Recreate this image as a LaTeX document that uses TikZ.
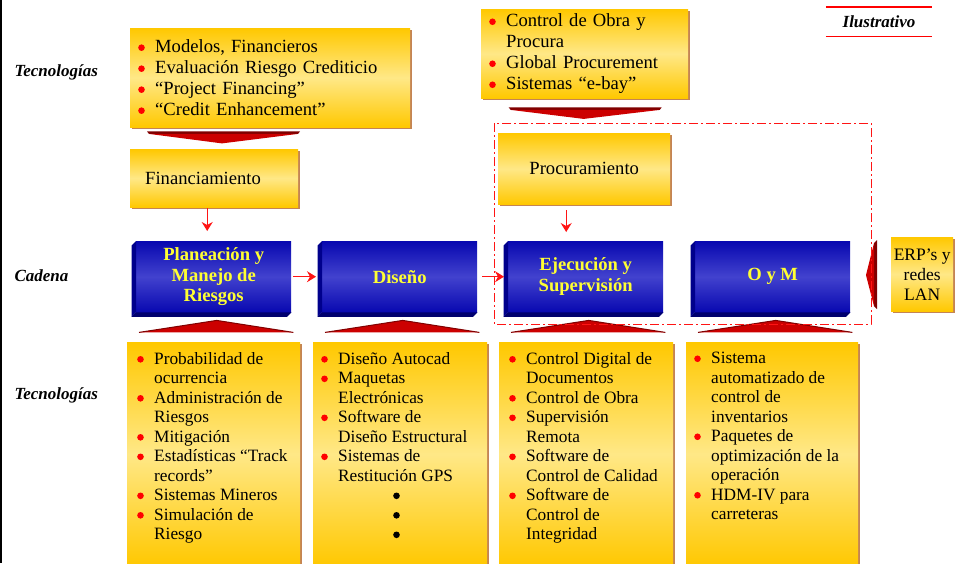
\documentclass[tikz,border=0pt]{standalone}
\usepackage{fontspec}
\setmainfont{Liberation Serif}
\usetikzlibrary{calc,positioning,shadows,arrows.meta}

\definecolor{gold}{RGB}{255,200,0}
\definecolor{paleyellow}{RGB}{255,232,135}
\definecolor{boxshadow}{RGB}{196,132,84}
\definecolor{chainblue}{RGB}{8,8,176}
\definecolor{chainmid}{RGB}{66,66,206}
\definecolor{chainside}{RGB}{0,0,140}
\definecolor{chainbase}{RGB}{0,0,110}
\definecolor{chaintext}{RGB}{255,255,51}
\definecolor{chevred}{RGB}{204,0,0}
\definecolor{chevdark}{RGB}{128,0,0}
\definecolor{flowred}{RGB}{255,20,20}

% round dot used as list bullet, and the matching hanging indent
\newcommand{\dotmark}[1]{\raisebox{1.6pt}{\tikz\fill[#1] (0,0) circle (3.3pt);}}
\newcommand{\bitem}{\makebox[17pt][l]{\dotmark{red}}}
\newcommand{\bcont}{\hspace*{17pt}}

\tikzset{
  techbox/.style={anchor=north west,inner sep=0pt,top color=gold,bottom color=gold,middle color=paleyellow,
    drop shadow={shadow xshift=2pt,shadow yshift=-2pt,fill=boxshadow,opacity=1}},
  toplist/.style={techbox,align=left,inner xsep=8pt,font=\fontsize{18.6}{21}\selectfont},
  botlist/.style={anchor=north west,inner sep=0pt,align=left,font=\fontsize{17.3}{19.5}\selectfont},
  chainbox/.style={anchor=north west,inner sep=0pt,minimum width=155pt,minimum height=71pt,
    top color=chainblue,bottom color=chainblue,middle color=chainmid,text=chaintext,align=center,
    font=\bfseries\fontsize{18.6}{20.5}\selectfont},
  rowlabel/.style={anchor=west,font=\bfseries\itshape\fontsize{17}{20}\selectfont},
  flow/.style={draw=flowred,line width=1.1pt,-{Stealth[length=9pt,width=11pt,inset=3pt]}}
}

\begin{document}
\begin{tikzpicture}[x=1pt,y=-1pt]
		\useasboundingbox (0,0) rectangle (956,563);
		\draw[line width=1.5pt] (0.75,0) -- (0.75,563);

		% row titles
		\node[rowlabel] (lblTop) at (11,72) {Tecnologías};
		\node[rowlabel] (lblChain) at (11,276) {Cadena};
		\node[rowlabel] (lblBot) at (11,395) {Tecnologías};

		\node[font=\bfseries\itshape\fontsize{17}{20}\selectfont,minimum width=106pt,minimum height=28.7pt,inner sep=0pt] (illus) at (879,21.6) {Ilustrativo};
		\draw[red,line width=1.2pt] (illus.north west) -- (illus.north east) (illus.south west) -- (illus.south east);

		% upper technologies
		\node[toplist,text width=264pt,minimum height=99pt] (finTech) at (130,28) {\bitem Modelos, Financieros\\ \bitem Evaluación Riesgo Crediticio\\ \bitem “Project Financing”\\ \bitem “Credit Enhancement”};
		\node[toplist,text width=191pt,minimum height=89pt] (procTech) at (481,9) {\bitem Control de Obra y\\ \bcont Procura\\ \bitem Global Procurement\\ \bitem Sistemas “e-bay”};

		% support stages
		\node[techbox,text width=138pt,inner xsep=15pt,minimum height=58pt,align=left,font=\fontsize{18.6}{21}\selectfont] (fin) at (130,149) {Financiamiento};
		\node[techbox,minimum width=172pt,minimum height=71pt,font=\fontsize{18.6}{21}\selectfont] (proc) at (498,133) {Procuramiento};

		% value chain
		\node[chainbox] (plan) at (136,241) {Planeación y\\Manejo de\\Riesgos};
		\node[chainbox] (dise) at (322,241) {Diseño};
		\node[chainbox] (ejec) at (508,241) {Ejecución y\\Supervisión};
		\node[chainbox] (oym) at (695,241) {O y M};
		\foreach \b in {plan,dise,ejec,oym}{
			\fill[chainside] (\b.north west) -- ++(-4.5,4.5) -- ([shift={(-4.5,4.5)}]\b.south west) -- (\b.south west) -- cycle;
			\fill[chainbase] (\b.south west) -- ++(-4.5,4.5) -- ([shift={(-4.5,4.5)}]\b.south east) -- (\b.south east) -- cycle;
			\fill[chevred] ([shift={(3,20)}]\b.south west) -- ([shift={(2,20)}]\b.south east) -- ([shift={(3,8)}]\b.south) -- cycle;
			\draw[chevdark,line width=1pt] ([shift={(3,20)}]\b.south west) -- ([shift={(3,8)}]\b.south) -- ([shift={(2,20)}]\b.south east);
		}

		\node[techbox,minimum width=62pt,minimum height=74pt,align=center,font=\fontsize{17.5}{20}\selectfont] (erp) at (891,237) {ERP’s y\\redes\\LAN};

		% lower technologies
		\node[techbox,minimum width=173pt,minimum height=224pt] (techPlan) at (127,342) {};
		\node[techbox,minimum width=174pt,minimum height=224pt] (techDise) at (313,342) {};
		\node[techbox,minimum width=174pt,minimum height=224pt] (techEjec) at (499,342) {};
		\node[techbox,minimum width=172pt,minimum height=224pt] (techOym) at (686,342) {};
		\node[botlist,below right=10pt and 10pt of techPlan.north west] (listPlan) {\bitem Probabilidad de\\ \bcont ocurrencia\\ \bitem Administración de\\ \bcont Riesgos\\ \bitem Mitigación\\ \bitem Estadísticas “Track\\ \bcont records”\\ \bitem Sistemas Mineros\\ \bitem Simulación de\\ \bcont Riesgo};
		\node[botlist,below right=10pt and 8pt of techDise.north west] (listDise) {\bitem Diseño Autocad\\ \bitem Maquetas\\ \bcont Electrónicas\\ \bitem Software de\\ \bcont Diseño Estructural\\ \bitem Sistemas de\\ \bcont Restitución GPS\\ \bcont\hspace*{55pt}\dotmark{black}\\ \bcont\hspace*{55pt}\dotmark{black}\\ \bcont\hspace*{55pt}\dotmark{black}};
		\node[botlist,below right=10pt and 10pt of techEjec.north west] (listEjec) {\bitem Control Digital de\\ \bcont Documentos\\ \bitem Control de Obra\\ \bitem Supervisión\\ \bcont Remota\\ \bitem Software de\\ \bcont Control de Calidad\\ \bitem Software de\\ \bcont Control de\\ \bcont Integridad};
		\node[botlist,below right=10pt and 8pt of techOym.north west] (listOym) {\bitem Sistema\\ \bcont automatizado de\\ \bcont control de\\ \bcont inventarios\\ \bitem Paquetes de\\ \bcont optimización de la\\ \bcont operación\\ \bitem HDM-IV para\\ \bcont carreteras};

		% broad arrows into the chain
		\fill[chevdark] ($(finTech.south west)+(17,4)$) -- ($(finTech.south west)+(170,4)$) -- ($(finTech.south west)+(168,6.5)$) -- ($(finTech.south west)+(19,6.5)$) -- cycle;
		\fill[chevred] ($(finTech.south west)+(19,6.5)$) -- ($(finTech.south west)+(168,6.5)$) -- ($(finTech.south west)+(92,16)$) -- cycle;
		\fill[chevdark] ($(procTech.south)+(-76,9)$) -- ($(procTech.south)+(77,9)$) -- ($(procTech.south)+(75,11.5)$) -- ($(procTech.south)+(-74,11.5)$) -- cycle;
		\fill[chevred] ($(procTech.south)+(-74,11.5)$) -- ($(procTech.south)+(75,11.5)$) -- ($(procTech.south)+(-1,20.5)$) -- cycle;
		\fill[chevdark] ($(erp.west)+(-14,-34)$) -- ($(erp.west)+(-14,35)$) -- ($(erp.west)+(-17,32)$) -- ($(erp.west)+(-17,-31)$) -- cycle;
		\fill[chevred] ($(erp.west)+(-17,-31)$) -- ($(erp.west)+(-17,32)$) -- ($(erp.west)+(-25,1)$) -- cycle;

		% flow of the chain
		\draw[flow,shorten <=1pt,shorten >=10pt] ([xshift=-7pt]fin.south) -- ([xshift=-7pt]fin.south |- plan.north);
		\draw[flow,shorten <=6pt,shorten >=9pt] ([xshift=-18pt]proc.south) -- ([xshift=-18pt]proc.south |- ejec.north);
		\draw[flow,shorten <=1.5pt,shorten >=6pt] (plan.east) -- (dise.west);
		\draw[flow,shorten <=5pt,shorten >=4pt] (dise.east) -- (ejec.west);

		\draw[flowred,line width=1pt,dash pattern=on 9pt off 3pt on 2pt off 3pt] (494,123) rectangle (871,324);
\end{tikzpicture}
\end{document}
